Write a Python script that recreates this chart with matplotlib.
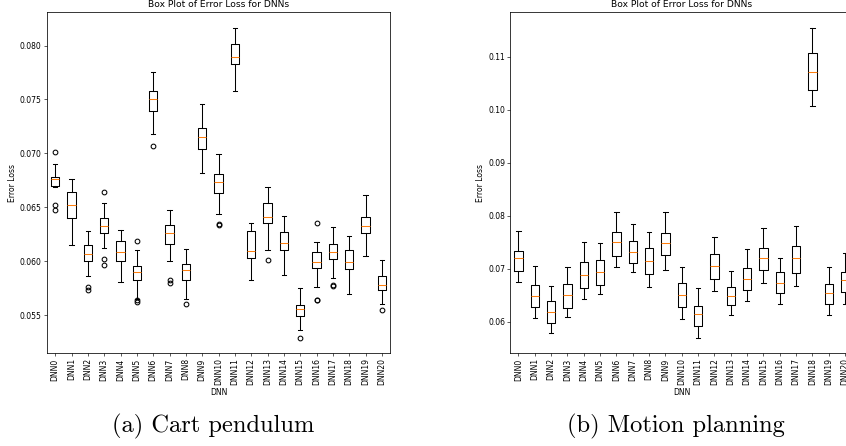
import matplotlib
matplotlib.use("Agg")
from matplotlib import pyplot as plt

names = [f"DNN{i}" for i in range(21)]

# (a) cart pendulum -- box stats
cp_med = [0.06762, 0.06519, 0.06065, 0.06330, 0.06086, 0.05904, 0.07508, 0.06265, 0.05920, 0.07149, 0.06736,
          0.07895, 0.06099, 0.06414, 0.06167, 0.05553, 0.05991, 0.06083, 0.05997, 0.06330, 0.05781]
cp_q1 = [0.06700, 0.06404, 0.06006, 0.06265, 0.06000, 0.05830, 0.07393, 0.06157, 0.05830, 0.07037, 0.06636,
         0.07830, 0.06031, 0.06352, 0.06102, 0.05491, 0.05935, 0.06025, 0.05929, 0.06259, 0.05738]
cp_q3 = [0.06783, 0.06643, 0.06154, 0.06401, 0.06188, 0.05954, 0.07576, 0.06340, 0.05975, 0.07232, 0.06808,
         0.08012, 0.06278, 0.06540, 0.06269, 0.05596, 0.06083, 0.06164, 0.06105, 0.06411, 0.05864]
cp_lo = [0.06689, 0.06148, 0.05861, 0.06127, 0.05809, 0.05654, 0.07176, 0.06000, 0.05651, 0.06814, 0.06438,
         0.07582, 0.05824, 0.06108, 0.05870, 0.05358, 0.05762, 0.05849, 0.05698, 0.06046, 0.05608]
cp_hi = [0.06901, 0.06762, 0.06281, 0.06537, 0.06287, 0.06102, 0.07759, 0.06475, 0.06117, 0.07455, 0.06991,
         0.08167, 0.06355, 0.06690, 0.06420, 0.05750, 0.06179, 0.06318, 0.06235, 0.06616, 0.06012]
cp_out = [[0.07012, 0.06520, 0.06472], [], [0.05758, 0.05738], [0.06646, 0.06025, 0.05963], [],
          [0.06188, 0.05639, 0.05626], [0.07071], [0.05830, 0.05802], [0.05599], [], [0.06349, 0.06340],
          [], [], [0.06015], [], [0.05293], [0.06358, 0.05642, 0.05640], [0.05784, 0.05772], [], [], [0.05546]]

# (b) motion planning
mp_med = [0.07200, 0.06481, 0.06175, 0.06506, 0.06888, 0.06931, 0.07494, 0.07313, 0.07150, 0.07475, 0.06506,
          0.06144, 0.07044, 0.06488, 0.06813, 0.07206, 0.06738, 0.07200, 0.10709, 0.06544, 0.06794]
mp_q1 = [0.06963, 0.06275, 0.05969, 0.06263, 0.06631, 0.06688, 0.07238, 0.07113, 0.06906, 0.07256, 0.06281,
         0.05925, 0.06800, 0.06306, 0.06588, 0.06969, 0.06531, 0.06913, 0.10380, 0.06331, 0.06550]
mp_q3 = [0.07331, 0.06700, 0.06381, 0.06713, 0.07131, 0.07163, 0.07694, 0.07519, 0.07394, 0.07675, 0.06731,
         0.06300, 0.07275, 0.06656, 0.07019, 0.07381, 0.06944, 0.07431, 0.11063, 0.06713, 0.06944]
mp_lo = [0.06750, 0.06063, 0.05788, 0.06088, 0.06431, 0.06513, 0.07038, 0.06931, 0.06656, 0.06981, 0.06056,
         0.05700, 0.06575, 0.06125, 0.06394, 0.06731, 0.06325, 0.06675, 0.10063, 0.06131, 0.06325]
mp_hi = [0.07713, 0.07044, 0.06675, 0.07025, 0.07500, 0.07488, 0.08075, 0.07838, 0.07688, 0.08063, 0.07025,
         0.06625, 0.07600, 0.06963, 0.07375, 0.07775, 0.07206, 0.07806, 0.11551, 0.07031, 0.07300]
mp_out = [[] for _ in names]

captions = ["(a) Cart pendulum", "(b) Motion planning"]


def make_stats(med, q1, q3, lo, hi, out):
    return [dict(med=m, q1=a, q3=b, whislo=l, whishi=h, fliers=f, label=n)
            for m, a, b, l, h, f, n in zip(med, q1, q3, lo, hi, out, names)]


def draw_panel(ax, stats):
    lw = 0.75
    ax.bxp(stats, widths=0.5,
           boxprops=dict(linewidth=lw, color="black"),
           whiskerprops=dict(linewidth=lw, color="black"),
           capprops=dict(linewidth=lw, color="black"),
           medianprops=dict(linewidth=lw, color="#ff7f0e"),
           flierprops=dict(marker="o", markersize=3.4, markerfacecolor="none",
                           markeredgecolor="black", markeredgewidth=0.75))
    ax.set_title("Box Plot of Error Loss for DNNs", fontsize=6.6, pad=3.3)
    ax.set_xlabel("DNN", fontsize=5.5, labelpad=2)
    ax.set_ylabel("Error Loss", fontsize=5.5, labelpad=2)
    ax.tick_params(labelsize=5.5, length=1.9, width=0.45, pad=1.9)
    ax.tick_params(axis="x", labelrotation=90)
    for s in ax.spines.values():
        s.set_linewidth(0.55)


fig = plt.figure(figsize=(8.46, 4.46), dpi=100)
ax1 = fig.add_axes([47 / 846, 93 / 446, 343 / 846, 341 / 446])
ax2 = fig.add_axes([510.3 / 846, 93 / 446, 343 / 846, 341 / 446])

draw_panel(ax1, make_stats(cp_med, cp_q1, cp_q3, cp_lo, cp_hi, cp_out))
draw_panel(ax2, make_stats(mp_med, mp_q1, mp_q3, mp_lo, mp_hi, mp_out))

fig.text(213.3 / 846, 20 / 446, captions[0], family="cmr10", fontsize=17.6, ha="center", va="center")
fig.text(676.3 / 846, 20 / 446, captions[1], family="cmr10", fontsize=17.6, ha="center", va="center")

fig.savefig("out.png", dpi=100)
